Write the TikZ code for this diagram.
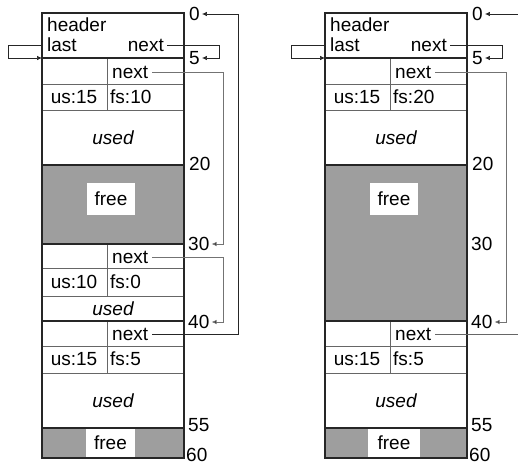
\documentclass[tikz,border=0pt]{standalone}
\usepackage{fontspec}
\setmainfont{Liberation Sans}
\usetikzlibrary{arrows.meta}
\begin{document}
\begin{tikzpicture}[x=1pt,y=-1pt,
  thickl/.style={line width=1.8pt,black!85},
  thinl/.style={line width=0.6pt,black!60},
  freefill/.style={fill=black!38},
  whitebox/.style={fill=white,inner sep=0pt,font=\fontsize{19}{21}\selectfont},
  lbl/.style={inner sep=0pt,font=\fontsize{19}{21}\selectfont},
  ulbl/.style={inner sep=0pt,font=\fontsize{19}{21}\selectfont\itshape},
  conn/.style={line width=0.7pt,black!85,-{Latex[length=5pt,width=4.5pt]}},
  connr/.style={line width=0.7pt,black!55,-{Latex[length=5pt,width=4.5pt,fill=black!85]}},
  plainc/.style={line width=0.7pt,black!60}]
\useasboundingbox (0,0) rectangle (518,466);
% ================= LEFT =================
\fill[freefill] (42,165) rectangle (184,244);
\fill[freefill] (42,428) rectangle (184,458);
\node[whitebox,minimum width=48pt,minimum height=32pt] (Lfree1) at (111,199) {free};
\node[whitebox,minimum width=49pt,minimum height=29pt] (Lfree2) at (110.5,443) {free};
\draw[thinl] (42,84) -- (184,84) (42,110) -- (184,110) (107,58) -- (107,110);
\draw[thinl] (42,268) -- (184,268) (42,296) -- (184,296) (107,244) -- (107,296);
\draw[thinl] (42,346) -- (184,346) (42,373) -- (184,373) (107,321) -- (107,373);
\draw[thickl] (42,58) -- (184,58) (42,165) -- (184,165) (42,244) -- (184,244)
  (42,321) -- (184,321) (42,428) -- (184,428);
\draw[thickl] (42,13) rectangle (184,458);
\node[lbl,anchor=west] (Lhdr) at (47,25) {header};
\node[lbl,anchor=west] (Llast) at (47,45) {last};
\node[lbl,anchor=east] (Lhnext) at (164,45) {next};
\node[lbl,anchor=west] (Lnext1) at (112,72) {next};
\node[lbl] (Lus1) at (74,97) {us:15};
\node[lbl,anchor=west] (Lfs1) at (110,97) {fs:10};
\node[ulbl] (Lused1) at (113,138) {used};
\node[lbl,anchor=west] (Lnext2) at (112,257) {next};
\node[lbl] (Lus2) at (74,282) {us:10};
\node[lbl,anchor=west] (Lfs2) at (110,282) {fs:0};
\node[ulbl] (Lused2) at (113,309) {used};
\node[lbl,anchor=west] (Lnext3) at (112,334) {next};
\node[lbl] (Lus3) at (74,359) {us:15};
\node[lbl,anchor=west] (Lfs3) at (110,359) {fs:5};
\node[ulbl] (Lused3) at (113,401) {used};
\node[lbl,anchor=west] (L0) at (189,14) {0};
\node[lbl,anchor=west] (L5) at (189,58) {5};
\node[lbl,anchor=west] (L20) at (189,164) {20};
\node[lbl,anchor=west] (L30) at (188,244) {30};
\node[lbl,anchor=west] (L40) at (188,322) {40};
\node[lbl,anchor=west] (L55) at (188,425) {55};
\node[lbl,anchor=west] (L60) at (186,455) {60};
\coordinate (Lin) at (42,58);
\draw[conn] ([xshift=-5pt]Llast.west) -- ++(-34,0) |- (Lin);
\draw[conn] ([xshift=3pt]Lhnext.east) -- (219,45) |- ([xshift=2pt]L5.east);
\draw[connr] ([xshift=4pt]Lnext1.east) -- (223,72) |- ([xshift=2pt]L30.east);
\draw[connr] ([xshift=4pt]Lnext2.east) -- (223,257) |- ([xshift=2pt]L40.east);
\draw[conn] ([xshift=4pt]Lnext3.east) -- (238,334) |- ([xshift=2pt]L0.east);
% ================= RIGHT =================
\fill[freefill] (325,165) rectangle (467,321);
\fill[freefill] (325,428) rectangle (467,458);
\node[whitebox,minimum width=48pt,minimum height=32pt] (Rfree1) at (394,199) {free};
\node[whitebox,minimum width=52pt,minimum height=29pt] (Rfree2) at (394,443) {free};
\draw[thinl] (325,84) -- (467,84) (325,110) -- (467,110) (390,58) -- (390,110);
\draw[thinl] (325,346) -- (467,346) (325,373) -- (467,373) (390,321) -- (390,373);
\draw[thickl] (325,58) -- (467,58) (325,165) -- (467,165)
  (325,321) -- (467,321) (325,428) -- (467,428);
\draw[thickl] (325,13) rectangle (467,458);
\node[lbl,anchor=west] (Rhdr) at (330,25) {header};
\node[lbl,anchor=west] (Rlast) at (330,45) {last};
\node[lbl,anchor=east] (Rhnext) at (447,45) {next};
\node[lbl,anchor=west] (Rnext1) at (395,72) {next};
\node[lbl] (Rus1) at (357,97) {us:15};
\node[lbl,anchor=west] (Rfs1) at (393,97) {fs:20};
\node[ulbl] (Rused1) at (396,138) {used};
\node[lbl,anchor=west] (Rnext3) at (395,334) {next};
\node[lbl] (Rus3) at (357,359) {us:15};
\node[lbl,anchor=west] (Rfs3) at (393,359) {fs:5};
\node[ulbl] (Rused3) at (396,401) {used};
\node[lbl,anchor=west] (R0) at (472,14) {0};
\node[lbl,anchor=west] (R5) at (472,58) {5};
\node[lbl,anchor=west] (R20) at (472,164) {20};
\node[lbl,anchor=west] (R30) at (471,244) {30};
\node[lbl,anchor=west] (R40) at (471,322) {40};
\node[lbl,anchor=west] (R55) at (471,425) {55};
\node[lbl,anchor=west] (R60) at (469,455) {60};
\coordinate (Rin) at (325,58);
\coordinate (Rout) at (518,334);
\coordinate (Rtop) at (518,14);
\draw[conn] ([xshift=-5pt]Rlast.west) -- ++(-34,0) |- (Rin);
\draw[conn] ([xshift=3pt]Rhnext.east) -- (502,45) |- ([xshift=2pt]R5.east);
\draw[connr] ([xshift=4pt]Rnext1.east) -- (506,72) |- ([xshift=2pt]R40.east);
\draw[plainc] ([xshift=4pt]Rnext3.east) -- (Rout);
\draw[conn] (Rtop) -- ([xshift=2pt]R0.east);
\end{tikzpicture}
\end{document}
